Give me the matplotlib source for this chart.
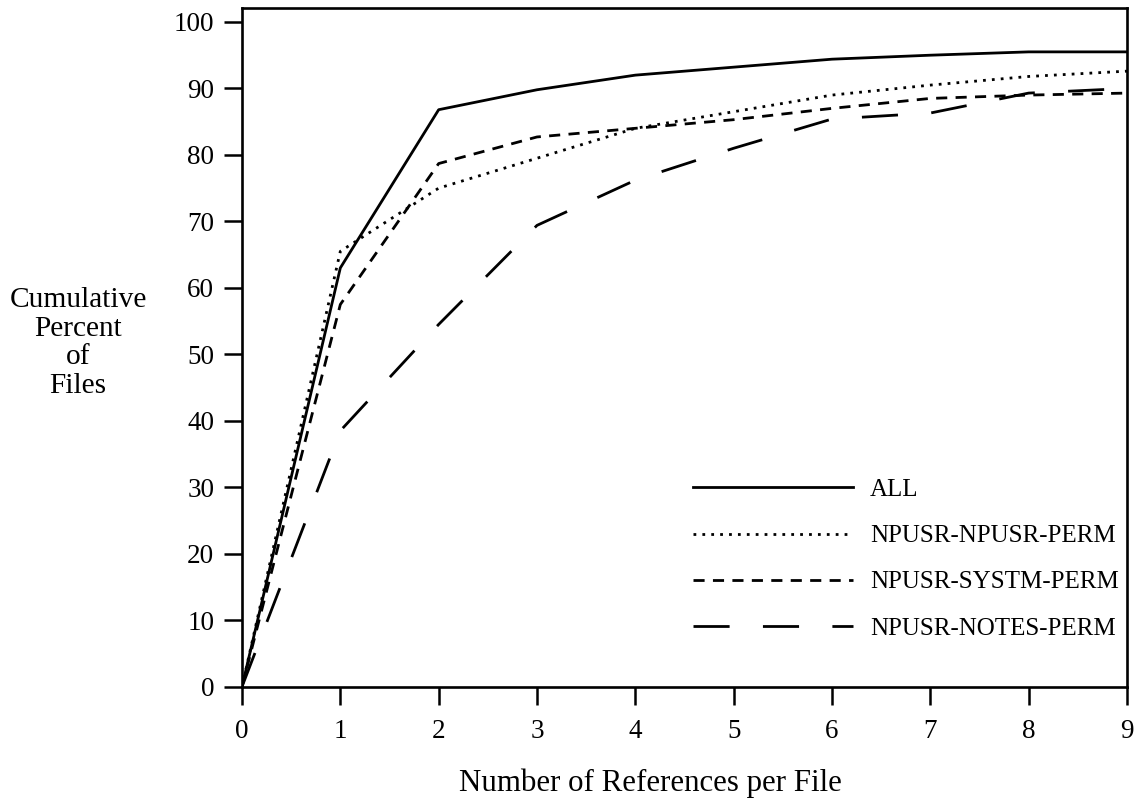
import matplotlib
matplotlib.use("Agg")
import matplotlib.pyplot as plt

refs = [0, 1, 2, 3, 4, 5, 6, 7, 8, 9]
all_files = [0, 63, 86.8, 89.8, 92, 93.2, 94.4, 95, 95.5, 95.5]
npusr_npusr = [0, 65.5, 75, 79.5, 84, 86.5, 89, 90.5, 91.8, 92.6]
npusr_systm = [0, 57.5, 78.7, 82.7, 84, 85.3, 87, 88.5, 89, 89.3]
npusr_notes = [0, 38.5, 54.5, 69.4, 76.2, 81, 85.4, 86.3, 89.3, 90]

labels = ["ALL", "NPUSR-NPUSR-PERM", "NPUSR-SYSTM-PERM", "NPUSR-NOTES-PERM"]
yticks = [0, 10, 20, 30, 40, 50, 60, 70, 80, 90, 100]

plt.rcParams['font.family'] = ['Liberation Serif', 'DejaVu Serif']

fig = plt.figure(figsize=(11.37, 8.02), dpi=100)
ax = fig.add_axes([242/1137, 1-686.7/802, (1127-242)/1137, (686.7-8)/802])

lw = 2.0
ax.plot(refs, all_files, color='black', lw=lw, linestyle='-', label=labels[0])
ax.plot(refs, npusr_npusr, color='black', lw=lw, linestyle=(0, (1, 2.2)), label=labels[1])
ax.plot(refs, npusr_systm, color='black', lw=lw, linestyle=(0, (4, 3)), label=labels[2])
ax.plot(refs, npusr_notes, color='black', lw=lw, linestyle=(0, (13, 12)), label=labels[3])

ax.set_xlim(0, 9)
ax.set_ylim(0, 102.1)
ax.set_xticks(refs)
ax.set_yticks(yticks)
ax.tick_params(axis='both', direction='out', length=13, width=1.8, labelsize=19.5, colors='black')
ax.tick_params(axis='y', pad=7)
ax.tick_params(axis='x', pad=10)
for s in ['left', 'right', 'bottom', 'top']:
    ax.spines[s].set_linewidth(1.9)

fig.text(78/1137, 1-343/802, "Cumulative\nPercent\nof\nFiles", ha='center', va='center',
         fontsize=21.2, linespacing=1.12)
fig.text(650/1137, 1-783/802, "Number of References per File", ha='center', va='center', fontsize=22.2)

leg = ax.legend(loc='upper left', bbox_to_anchor=(670/1137, 1-456/802), bbox_transform=fig.transFigure,
                frameon=False, fontsize=18, handlelength=6.4, labelspacing=0.95, handletextpad=0.7)

fig.savefig("out.png", dpi=100)
